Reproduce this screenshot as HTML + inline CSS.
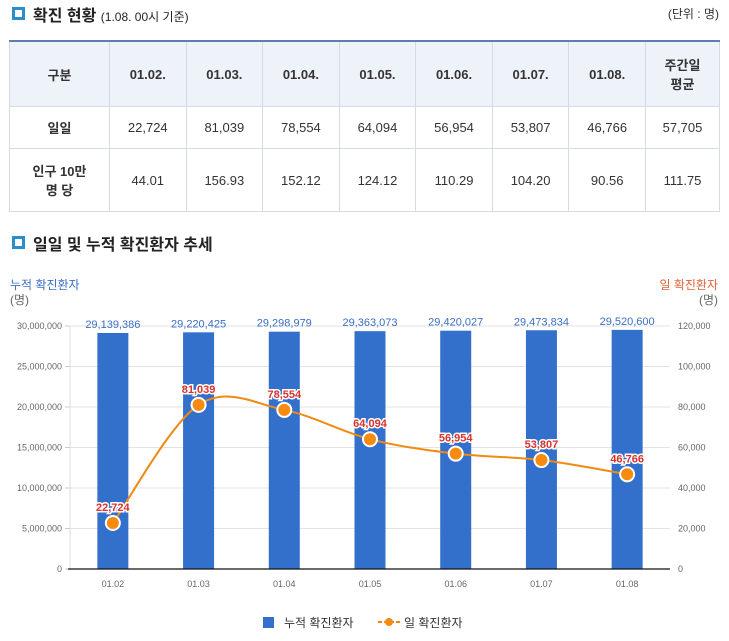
<!DOCTYPE html>
<html><head><meta charset="utf-8"><style>
body{margin:0;width:729px;height:641px;background:#fff;font-family:"Liberation Sans","Noto Sans CJK KR",sans-serif;position:relative;overflow:hidden}
.h{position:absolute;font-size:16px;color:#222;font-weight:bold}
.ic{display:inline-block;width:7px;height:7px;border:3px solid #2a8fc9;background:#fff;margin-right:8px;vertical-align:1px}
table{position:absolute;left:9px;top:40px;width:711px;border-collapse:collapse;border-top:2px solid #5d7fae;font-size:13px;color:#333}
td,th{border:1px solid #d6dbe3;text-align:center;padding:0}
th{background:#eef3fa;font-weight:bold;height:64px}
td.l{background:#fff;font-weight:bold}
</style></head><body>
<div class="h" style="left:12px;top:2px"><span class="ic"></span>확진 현황 <span style="font-size:12px;font-weight:normal">(1.08. 00시 기준)</span></div>
<div style="position:absolute;right:10px;top:5px;font-size:12px;color:#333">(단위 : 명)</div>
<table>
<tr><th style="width:99px">구분</th><th>01.02.</th><th>01.03.</th><th>01.04.</th><th>01.05.</th><th>01.06.</th><th>01.07.</th><th>01.08.</th><th style="width:73px">주간일<br>평균</th></tr>
<tr style="height:42px"><td class="l">일일</td><td>22,724</td><td>81,039</td><td>78,554</td><td>64,094</td><td>56,954</td><td>53,807</td><td>46,766</td><td>57,705</td></tr>
<tr style="height:63px"><td class="l">인구 10만<br>명 당</td><td>44.01</td><td>156.93</td><td>152.12</td><td>124.12</td><td>110.29</td><td>104.20</td><td>90.56</td><td>111.75</td></tr>
</table>
<div class="h" style="left:12px;top:231px"><span class="ic"></span>일일 및 누적 확진환자 추세</div>
<svg id="c" width="729" height="641" style="position:absolute;left:0;top:0"></svg>
<script>
const cats=["01.02","01.03","01.04","01.05","01.06","01.07","01.08"];
const cumVals=[29139386,29220425,29298979,29363073,29420027,29473834,29520600];
const dailyVals=[22724,81039,78554,64094,56954,53807,46766];
const leftTicks=[0,5000000,10000000,15000000,20000000,25000000,30000000];
const rightTicks=[0,20000,40000,60000,80000,100000,120000];
const X0=70,X1=670,Y0=569,Y1=326,band=(X1-X0)/cats.length;
const xc=i=>X0+band*(i+0.5);
const yL=v=>Y0-(v/30000000)*(Y0-Y1);
const yR=v=>Y0-(v/120000)*(Y0-Y1);
const fmt=v=>v.toLocaleString('en-US');
const svg=document.getElementById('c');const NS='http://www.w3.org/2000/svg';
function mk(t,a,txt){const e=document.createElementNS(NS,t);for(const k in a)e.setAttribute(k,a[k]);if(txt!=null)e.textContent=txt;svg.appendChild(e);return e;}
const F='"Liberation Sans","Noto Sans CJK KR",sans-serif';
leftTicks.forEach((v,i)=>{const y=yL(v);
 if(v>0){const g=mk('line',{x1:X0,x2:X1,y1:y,y2:y,stroke:'#e3e3e3'});}
 const t=mk('text',{x:X0-8,y:y+3,'text-anchor':'end','font-size':9,fill:'#666','font-family':F},fmt(v));
 
 const tk=mk('line',{x1:X0-5,x2:X0,y1:y,y2:y,stroke:'#ccc'});});
rightTicks.forEach(v=>{const t=mk('text',{x:678,y:yR(v)+3,'font-size':9,fill:'#666','font-family':F},fmt(v));
 });
mk('line',{x1:X0,x2:X0,y1:Y1,y2:Y0,stroke:'#ddd'});
cumVals.forEach((v,i)=>{const y=yL(v);
 const b=mk('rect',{x:xc(i)-15.5,y:y,width:31,height:Y0-y,fill:'#3370cc'});
 
 const t=mk('text',{x:xc(i),y:y-5,'text-anchor':'middle','font-size':11,fill:'#3a6fc4','font-family':F},fmt(v));
 
 const c=mk('text',{x:xc(i),y:Y0+18,'text-anchor':'middle','font-size':9,fill:'#666','font-family':F},cats[i]);
 });
const ax=mk('line',{x1:X0-2,x2:X1,y1:Y0,y2:Y0,stroke:'#111','stroke-width':1.2});
const P=dailyVals.map((v,i)=>[xc(i),yR(v)]);
let d='M'+P[0][0]+','+P[0][1];
for(let i=0;i<P.length-1;i++){const p0=P[Math.max(0,i-1)],p1=P[i],p2=P[i+1],p3=P[Math.min(P.length-1,i+2)];
 d+=` C${p1[0]+(p2[0]-p0[0])/6},${p1[1]+(p2[1]-p0[1])/6} ${p2[0]-(p3[0]-p1[0])/6},${p2[1]-(p3[1]-p1[1])/6} ${p2[0]},${p2[1]}`;}
const ln=mk('path',{d:d,fill:'none',stroke:'#f08a12','stroke-width':2});
dailyVals.forEach((v,i)=>{
 const p=mk('circle',{cx:P[i][0],cy:P[i][1],r:7,fill:'#f68b0f',stroke:'#fff','stroke-width':2});
 
 const t=mk('text',{x:P[i][0],y:P[i][1]-12,'text-anchor':'middle','font-size':11,'font-weight':'bold',fill:'#d8322b',stroke:'#fff','stroke-width':3,'paint-order':'stroke','font-family':F},fmt(v));
 });
const a1=mk('text',{x:10,y:289,'font-size':12,fill:'#3a6fc4','font-family':F},'누적 확진환자');
const a2=mk('text',{x:10,y:304,'font-size':12,fill:'#666','font-family':F},'(명)');
const a3=mk('text',{x:718,y:289,'text-anchor':'end','font-size':12,fill:'#e0633a','font-family':F},'일 확진환자');
const a4=mk('text',{x:718,y:304,'text-anchor':'end','font-size':12,fill:'#666','font-family':F},'(명)');
const l1=mk('rect',{x:263,y:617,width:11,height:11,fill:'#3370cc'});
const l2=mk('text',{x:284,y:627,'font-size':12,fill:'#333','font-family':F},'누적 확진환자');
const l3=mk('line',{x1:378,x2:400,y1:622,y2:622,stroke:'#f08a12','stroke-width':2,'stroke-dasharray':'4,2'});
const l4=mk('circle',{cx:389,cy:622,r:4,fill:'#f68b0f'});
const l5=mk('text',{x:404,y:627,'font-size':12,fill:'#333','font-family':F},'일 확진환자');
</script>
</body></html>
